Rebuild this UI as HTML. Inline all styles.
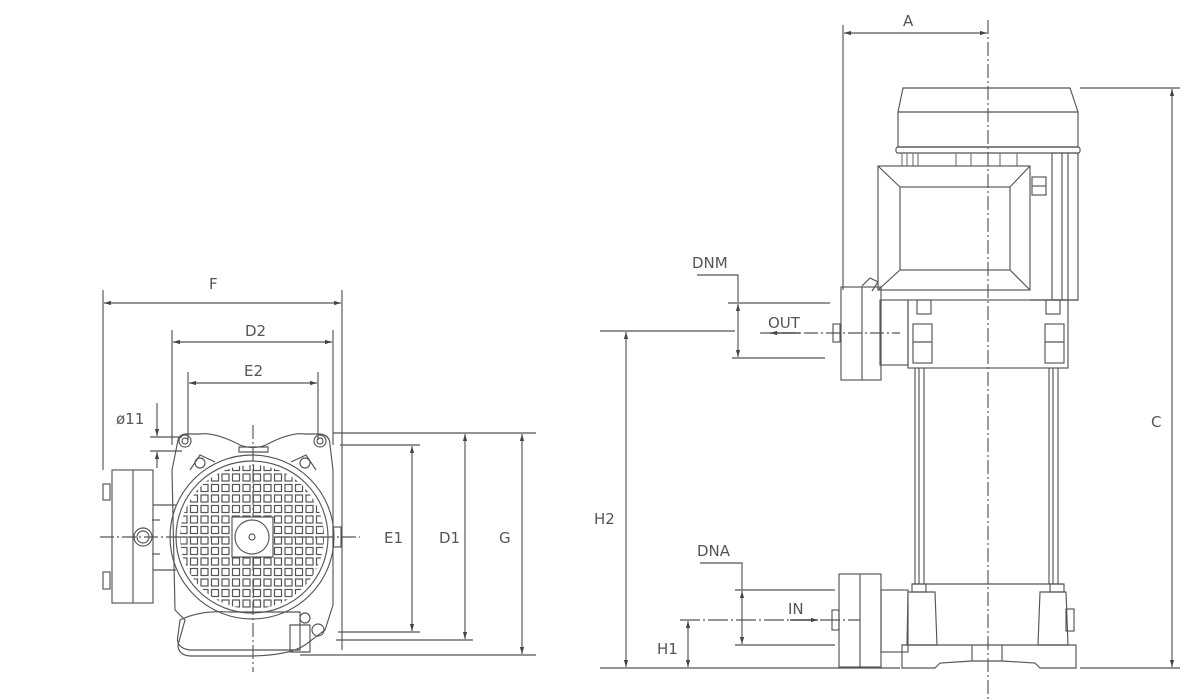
<!DOCTYPE html>
<html><head><meta charset="utf-8"><style>
html,body{margin:0;padding:0;background:#fff;}
svg{display:block}
text{font-family:"DejaVu Sans","Liberation Sans",sans-serif;fill:#555;font-size:15px;}
</style></head><body>
<svg width="1200" height="700" viewBox="0 0 1200 700" xmlns="http://www.w3.org/2000/svg">
<defs>
<marker id="ar" viewBox="0 0 10 10" refX="10" refY="5" markerWidth="10" markerHeight="7" orient="auto-start-reverse" markerUnits="userSpaceOnUse">
<path d="M0,2 L10,5 L0,8 z" fill="#444"/></marker>
<pattern id="grid" x="0" y="0" width="10.5" height="10.5" patternUnits="userSpaceOnUse">
<rect x="1.5" y="1.5" width="7" height="7" fill="none" stroke="#555" stroke-width="1.2"/></pattern>
<clipPath id="cc"><circle cx="252" cy="537" r="72"/></clipPath>
</defs>
<g stroke="#555" stroke-width="1.15" fill="none">
<line x1="104" y1="303" x2="341" y2="303" marker-start="url(#ar)" marker-end="url(#ar)"/>
<line x1="103" y1="290" x2="103" y2="470"/>
<line x1="342" y1="290" x2="342" y2="650"/>
<line x1="173" y1="342" x2="332" y2="342" marker-start="url(#ar)" marker-end="url(#ar)"/>
<line x1="172" y1="330" x2="172" y2="445"/>
<line x1="333" y1="330" x2="333" y2="445"/>
<line x1="189" y1="383" x2="317" y2="383" marker-start="url(#ar)" marker-end="url(#ar)"/>
<line x1="188" y1="372" x2="188" y2="440"/>
<line x1="318" y1="372" x2="318" y2="440"/>
<line x1="157" y1="403" x2="157" y2="436" marker-end="url(#ar)"/>
<line x1="157" y1="468" x2="157" y2="452" marker-end="url(#ar)"/>
<line x1="150" y1="437" x2="182" y2="437"/>
<line x1="150" y1="451" x2="182" y2="451"/>
<line x1="412" y1="446" x2="412" y2="631" marker-start="url(#ar)" marker-end="url(#ar)"/>
<line x1="465" y1="434" x2="465" y2="639" marker-start="url(#ar)" marker-end="url(#ar)"/>
<line x1="522" y1="434" x2="522" y2="654" marker-start="url(#ar)" marker-end="url(#ar)"/>
<line x1="333" y1="433" x2="536" y2="433"/>
<line x1="340" y1="445" x2="420" y2="445"/>
<line x1="338" y1="632" x2="420" y2="632"/>
<line x1="336" y1="640" x2="473" y2="640"/>
<line x1="300" y1="655" x2="536" y2="655"/>
<line x1="100" y1="537" x2="360" y2="537" stroke-dasharray="14,3,2,3"/>
<line x1="253" y1="425" x2="253" y2="672" stroke-dasharray="14,3,2,3"/>
<rect x="112" y="470" width="41" height="133"/>
<line x1="133" y1="470" x2="133" y2="603"/>
<rect x="103" y="484" width="7" height="16"/>
<rect x="103" y="572" width="7" height="17"/>
<line x1="153" y1="505" x2="176" y2="505"/>
<line x1="153" y1="570" x2="176" y2="570"/>
<circle cx="143" cy="537" r="9"/><circle cx="143" cy="537" r="6"/>
<line x1="152" y1="520" x2="160" y2="520"/><line x1="152" y1="554" x2="160" y2="554"/>
<path d="M178,440 Q180,433 190,434 L200,434 Q215,432 240,445 Q253,450 266,445 Q290,432 305,434 L318,434 Q330,434 330,445 L333,470 L333,605 L325,630 L305,645 Q290,655 253,656 L190,656 Q178,655 178,645 L185,620 L175,610 L172,470 Z"/>
<circle cx="185" cy="441" r="6"/><circle cx="320" cy="441" r="6"/>
<circle cx="185" cy="441" r="3"/><circle cx="320" cy="441" r="3"/>
<path d="M190,470 L200,455 L215,462"/><path d="M316,470 L306,455 L291,462"/>
<circle cx="200" cy="463" r="5"/><circle cx="305" cy="463" r="5"/>
<path d="M239,452 L268,452 L268,447 L239,447 Z"/>
<circle cx="252" cy="537" r="82"/>
<circle cx="252" cy="537" r="76"/>
<rect x="176" y="462" width="152" height="152" fill="url(#grid)" stroke="none" clip-path="url(#cc)"/>
<rect x="232" y="517" width="41" height="40" fill="#fff" stroke="#555"/>
<circle cx="252" cy="537" r="17"/>
<circle cx="252" cy="537" r="3"/>
<rect x="333" y="527" width="8" height="20"/>
<path d="M180,620 Q200,610 230,612 L300,612 L300,650 L190,650 Q175,648 178,635 Z"/>
<path d="M290,625 L310,625 L310,652 L290,652 Z"/>
<circle cx="318" cy="630" r="6"/><circle cx="305" cy="618" r="5"/>
<line x1="844" y1="33" x2="987" y2="33" marker-start="url(#ar)" marker-end="url(#ar)"/>
<line x1="843" y1="25" x2="843" y2="290"/>
<line x1="988" y1="20" x2="988" y2="700" stroke-dasharray="14,3,2,3"/>
<line x1="1172" y1="89" x2="1172" y2="667" marker-start="url(#ar)" marker-end="url(#ar)"/>
<line x1="1080" y1="88" x2="1180" y2="88"/>
<line x1="1080" y1="668" x2="1180" y2="668"/>
<line x1="600" y1="668" x2="900" y2="668"/>
<line x1="626" y1="332" x2="626" y2="667" marker-start="url(#ar)" marker-end="url(#ar)"/>
<line x1="600" y1="331" x2="735" y2="331"/>
<line x1="688" y1="621" x2="688" y2="667" marker-start="url(#ar)" marker-end="url(#ar)"/>
<line x1="680" y1="620" x2="860" y2="620" stroke-dasharray="20,3,2,3"/>
<polyline points="697,275 738,275 738,302"/>
<line x1="738" y1="304" x2="738" y2="357" marker-start="url(#ar)" marker-end="url(#ar)"/>
<line x1="728" y1="303" x2="830" y2="303"/>
<line x1="732" y1="358" x2="825" y2="358"/>
<line x1="760" y1="333" x2="900" y2="333" stroke-dasharray="14,3,2,3"/>
<line x1="800" y1="333" x2="770" y2="333" marker-end="url(#ar)" stroke="#333"/>
<polyline points="700,563 742,563 742,590"/>
<line x1="742" y1="591" x2="742" y2="644" marker-start="url(#ar)" marker-end="url(#ar)"/>
<line x1="735" y1="590" x2="835" y2="590"/>
<line x1="735" y1="645" x2="835" y2="645"/>
<line x1="790" y1="620" x2="818" y2="620" marker-end="url(#ar)" stroke="#333"/>
<path d="M903,88 L1070,88 L1078,112 L1078,147 L898,147 L898,112 Z"/>
<line x1="898" y1="112" x2="1078" y2="112"/>
<rect x="896" y="147" width="184" height="6" rx="2"/>
<g stroke="#777"><line x1="902" y1="153" x2="902" y2="166"/><line x1="907" y1="153" x2="907" y2="166"/><line x1="913" y1="153" x2="913" y2="166"/><line x1="918" y1="153" x2="918" y2="166"/><line x1="956" y1="153" x2="956" y2="166"/><line x1="971" y1="153" x2="971" y2="166"/><line x1="1000" y1="153" x2="1000" y2="166"/><line x1="1017" y1="153" x2="1017" y2="166"/></g>
<rect x="878" y="166" width="152" height="124"/>
<rect x="900" y="187" width="110" height="83"/>
<line x1="878" y1="166" x2="900" y2="187"/><line x1="1030" y1="166" x2="1010" y2="187"/>
<line x1="878" y1="290" x2="900" y2="270"/><line x1="1030" y1="290" x2="1010" y2="270"/>
<rect x="1032" y="177" width="14" height="18"/><line x1="1032" y1="186" x2="1046" y2="186"/>
<rect x="1052" y="153" width="26" height="147"/>
<line x1="1062" y1="153" x2="1062" y2="300"/><line x1="1068" y1="153" x2="1068" y2="300"/>
<line x1="1030" y1="300" x2="1078" y2="300"/>
<path d="M862,286 L870,278 L878,282 L872,291"/>
<rect x="908" y="300" width="160" height="68"/>
<rect x="917" y="300" width="14" height="14"/><rect x="1046" y="300" width="14" height="14"/>
<rect x="913" y="324" width="19" height="39"/><line x1="913" y1="342" x2="932" y2="342"/>
<rect x="1045" y="324" width="19" height="39"/><line x1="1045" y1="342" x2="1064" y2="342"/>
<rect x="880" y="300" width="28" height="65"/>
<rect x="841" y="287" width="40" height="93"/>
<line x1="862" y1="287" x2="862" y2="380"/>
<rect x="833" y="324" width="7" height="18"/>
<line x1="915" y1="368" x2="915" y2="584"/><line x1="919" y1="368" x2="919" y2="584"/><line x1="924" y1="368" x2="924" y2="584"/>
<line x1="1049" y1="368" x2="1049" y2="584"/><line x1="1053" y1="368" x2="1053" y2="584"/><line x1="1058" y1="368" x2="1058" y2="584"/>
<line x1="912" y1="584" x2="1063" y2="584"/>
<path d="M908,592 L935,592 L937,645 L907,645 Z"/>
<path d="M1040,592 L1066,592 L1068,645 L1038,645 Z"/>
<rect x="912" y="584" width="14" height="8"/><rect x="1050" y="584" width="14" height="8"/>
<path d="M902,645 L1076,645 L1076,668 L1040,668 L1035,663 L1002,661 L972,661 L940,663 L935,668 L902,668 Z"/>
<line x1="972" y1="645" x2="972" y2="661"/><line x1="1002" y1="645" x2="1002" y2="661"/>
<rect x="1066" y="609" width="8" height="22"/>
<rect x="881" y="590" width="27" height="62"/>
<rect x="839" y="574" width="42" height="93"/>
<line x1="860" y1="574" x2="860" y2="667"/>
<rect x="832" y="610" width="7" height="20"/>
</g>
<g>
<text x="209" y="289">F</text>
<text x="245" y="336">D2</text>
<text x="244" y="376">E2</text>
<text x="116" y="424" font-size="14">ø11</text>
<text x="384" y="543">E1</text>
<text x="439" y="543">D1</text>
<text x="499" y="543">G</text>
<text x="903" y="26">A</text>
<text x="1151" y="427">C</text>
<text x="594" y="524">H2</text>
<text x="657" y="654">H1</text>
<text x="692" y="268" font-size="14">DNM</text>
<text x="768" y="328" font-size="14">OUT</text>
<text x="697" y="556" font-size="14">DNA</text>
<text x="788" y="614" font-size="14">IN</text>
</g>
</svg>
</body></html>
